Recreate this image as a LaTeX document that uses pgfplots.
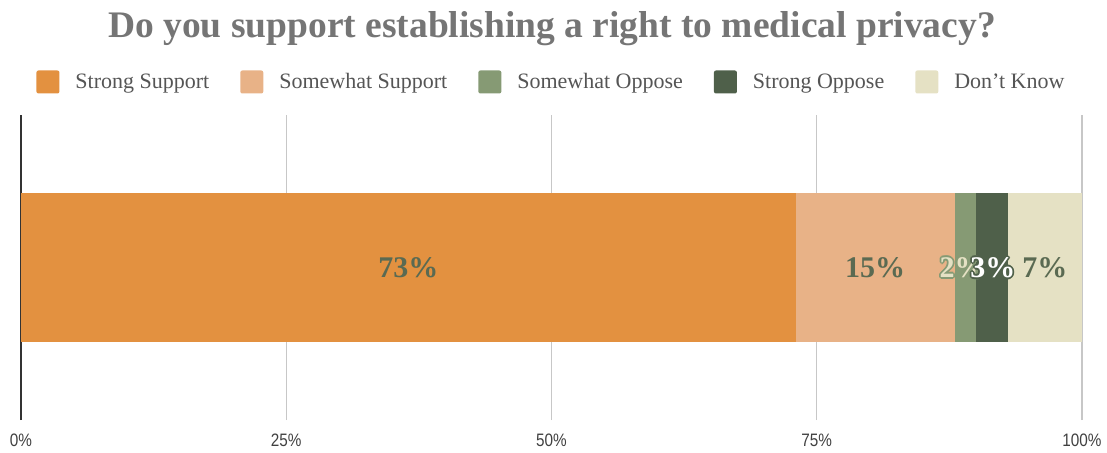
\documentclass[border=0pt]{standalone}
\usepackage{fontspec}
\setmainfont{Liberation Serif}
\newfontfamily\ticksfont[FakeStretch=0.85]{Liberation Sans}
\usepackage{pgfplots}
\pgfplotsset{compat=1.18}
\definecolor{cSS}{HTML}{E39140}
\definecolor{cSwS}{HTML}{E8B287}
\definecolor{cSwO}{HTML}{869A74}
\definecolor{cSO}{HTML}{4F604A}
\definecolor{cDK}{HTML}{E5E1C4}
\definecolor{lab}{HTML}{5A6A52}
\definecolor{titlegray}{HTML}{757575}
\definecolor{leggray}{HTML}{555555}
\begin{document}
\begin{tikzpicture}[x=1pt,y=1pt]
\useasboundingbox (0,0) rectangle (1107,452);
\begin{axis}[
  at={(21pt,32pt)}, anchor=south west,
  scale only axis, width=1061pt, height=305pt,
  xbar stacked, bar width=148pt,
  xmin=0, xmax=100, ymin=-1, ymax=1,
  ytick=\empty,
  xtick={25,50,75,100},
  extra x ticks={0},
  extra x tick style={grid=none},
  /pgf/number format/assume math mode=true,
  xticklabel={\pgfmathprintnumber{\tick}\%},
  xticklabel style={font=\ticksfont\fontsize{18}{20}\selectfont, text=black!75, anchor=center, yshift=-20pt},
  major tick length=0pt,
  xmajorgrids,
  grid style={color=black!22, line width=1.3pt},
  separate axis lines,
  axis y line*=left,
  y axis line style={draw=black!80, line width=1.3pt, -},
  axis x line*=bottom,
  x axis line style={draw=none},
  legend columns=5,
  legend style={draw=none, fill=none, at={(0.5,1)}, anchor=center, yshift=33pt,
    font=\fontsize{22}{24}\selectfont, text=leggray,
    /tikz/every even column/.append style={column sep=29pt},
    /tikz/every odd column/.append style={column sep=0pt}},
  legend image code/.code={\fill[#1, draw=none, rounded corners=2pt] (0pt,-11.5pt) rectangle (23pt,11.5pt);},
  legend cell align=left,
]
\addplot+[fill=cSS, draw=none] coordinates {(73,0)};
\addlegendentry{\hspace{14pt}Strong Support}
\addplot+[fill=cSwS, draw=none] coordinates {(15,0)};
\addlegendentry{\hspace{14pt}Somewhat Support}
\addplot+[fill=cSwO, draw=none] coordinates {(2,0)};
\addlegendentry{\hspace{14pt}Somewhat Oppose}
\addplot+[fill=cSO, draw=none] coordinates {(3,0)};
\addlegendentry{\hspace{14pt}Strong Oppose}
\addplot+[fill=cDK, draw=none] coordinates {(7,0)};
\addlegendentry{\hspace{14pt}Don't Know}
\end{axis}
\begin{axis}[
  at={(21pt,32pt)}, anchor=south west,
  scale only axis, width=1061pt, height=305pt,
  xmin=0, xmax=100, ymin=-1, ymax=1,
  hide axis, clip=false,
  point meta=explicit symbolic,
  nodes near coords,
  every node near coord/.append style={anchor=center, font=\bfseries\fontsize{30}{32}\selectfont},
]
\addplot[draw=none, every node near coord/.append style={text=lab}] coordinates {(36.5,0)[73\%] (80.5,0)[15\%] (96.5,0)[7\%]};
\pgfplotsinvokeforeach{0,45,90,135,180,225,270,315}{
\addplot[draw=none, every node near coord/.append style={text=cSwO, shift={(#1:1.8pt)}}] coordinates {(88.7,0)[2\%]};
}
\addplot[draw=none, every node near coord/.append style={text=cDK}] coordinates {(88.7,0)[2\%]};
\pgfplotsinvokeforeach{0,45,90,135,180,225,270,315}{
\addplot[draw=none, every node near coord/.append style={text=cSO, shift={(#1:1.8pt)}}] coordinates {(91.6,0)[3\%]};
}
\addplot[draw=none, every node near coord/.append style={text=white}] coordinates {(91.6,0)[3\%]};
\end{axis}
\node[font=\bfseries\fontsize{37.5}{40}\selectfont, text=titlegray] at (552,423) {Do you support establishing a right to medical privacy?};
\end{tikzpicture}
\end{document}
